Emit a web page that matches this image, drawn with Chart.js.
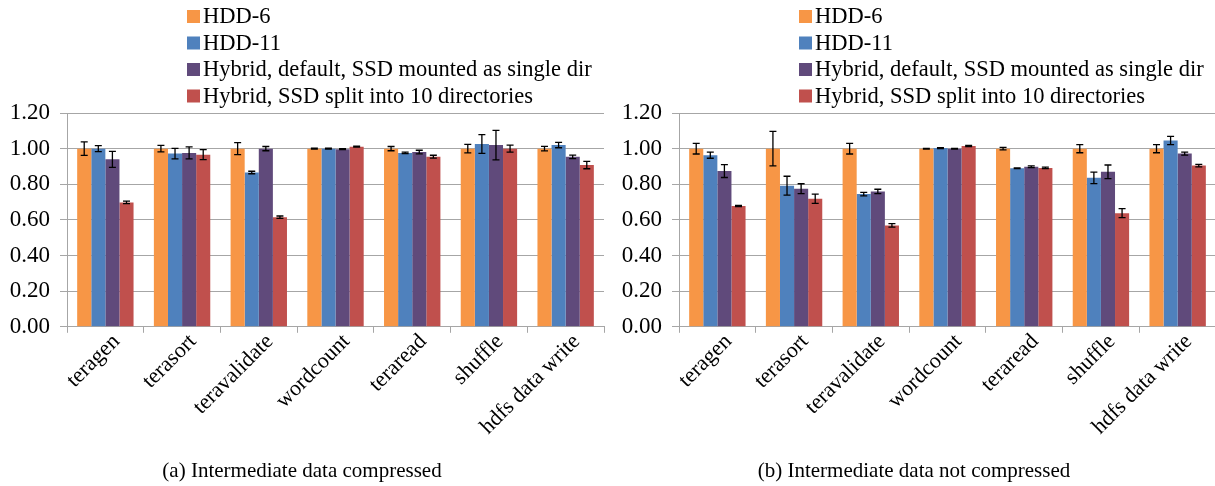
<!DOCTYPE html>
<html>
<head>
<meta charset="utf-8">
<script src="https://cdn.jsdelivr.net/npm/chart.js@4/dist/chart.umd.min.js"></script>
<style>
  html, body { margin: 0; padding: 0; background: #fff; overflow: hidden; }
  body { width: 1215px; height: 486px; position: relative; }
  .wrap { position: absolute; top: 0; width: 607px; height: 486px; }
  #wrapA { left: 0; }
  #wrapB { left: 612px; }
</style>
</head>
<body>
<div class="wrap" id="wrapA"><canvas id="chartA" width="607" height="486"></canvas></div>
<div class="wrap" id="wrapB"><canvas id="chartB" width="607" height="486"></canvas></div>
<script>
// categories and series names
const categories = ['teragen', 'terasort', 'teravalidate', 'wordcount', 'teraread', 'shuffle', 'hdfs data write'];
const seriesNames = ['HDD-6', 'HDD-11', 'Hybrid, default, SSD mounted as single dir', 'Hybrid, SSD split into 10 directories'];
const seriesColors = ['#F79646', '#4F81BD', '#604A7B', '#C0504D'];
const yTicks = [0, 0.2, 0.4, 0.6, 0.8, 1.0, 1.2];

// (a) intermediate data compressed
const compHdd6      = [1.00, 1.00, 1.00, 1.00, 1.00, 1.00, 1.00];
const compHdd6Err   = [0.038, 0.018, 0.034, 0.003, 0.012, 0.024, 0.013];
const compHdd11     = [1.00, 0.972, 0.866, 1.00, 0.976, 1.026, 1.020];
const compHdd11Err  = [0.017, 0.030, 0.007, 0.003, 0.004, 0.053, 0.015];
const compHyb       = [0.940, 0.976, 1.00, 0.997, 0.981, 1.020, 0.954];
const compHybErr    = [0.045, 0.034, 0.012, 0.003, 0.010, 0.083, 0.010];
const compSplit     = [0.698, 0.966, 0.615, 1.011, 0.955, 1.00, 0.908];
const compSplitErr  = [0.007, 0.028, 0.007, 0.003, 0.008, 0.020, 0.021];

// (b) intermediate data not compressed
const rawHdd6       = [1.00, 1.00, 1.00, 1.00, 1.00, 1.00, 1.00];
const rawHdd6Err    = [0.030, 0.097, 0.030, 0.002, 0.007, 0.023, 0.023];
const rawHdd11      = [0.963, 0.792, 0.745, 1.003, 0.890, 0.836, 1.046];
const rawHdd11Err   = [0.017, 0.053, 0.010, 0.003, 0.002, 0.032, 0.023];
const rawHyb        = [0.874, 0.775, 0.760, 1.00, 0.898, 0.870, 0.972];
const rawHybErr     = [0.036, 0.028, 0.012, 0.002, 0.005, 0.038, 0.008];
const rawSplit      = [0.678, 0.719, 0.569, 1.015, 0.892, 0.638, 0.905];
const rawSplitErr   = [0.004, 0.026, 0.010, 0.003, 0.004, 0.025, 0.007];

const fontFamily = '"Liberation Serif", "Times New Roman", serif';
const gridColor = '#A6A6A6';

// error bars drawn through the y scale of each chart
const errorBarPlugin = {
    id: 'errorBars',
    afterDatasetsDraw(chart) {
        const ctx = chart.ctx;
        const y = chart.scales.y;
        ctx.save();
        ctx.strokeStyle = '#000';
        ctx.lineWidth = 1.3;
        chart.data.datasets.forEach((ds, i) => {
            const meta = chart.getDatasetMeta(i);
            meta.data.forEach((bar, j) => {
                const v = ds.data[j];
                const e = ds.errors[j];
                const top = y.getPixelForValue(v + e);
                const bot = y.getPixelForValue(v - e);
                const cap = 3.5;
                ctx.beginPath();
                ctx.moveTo(bar.x, top);
                ctx.lineTo(bar.x, bot);
                ctx.moveTo(bar.x - cap, top);
                ctx.lineTo(bar.x + cap, top);
                ctx.moveTo(bar.x - cap, bot);
                ctx.lineTo(bar.x + cap, bot);
                ctx.stroke();
            });
        });
        ctx.restore();
    }
};

// legend stacked vertically in the top left, like the original
const stackedLegendPlugin = {
    id: 'stackedLegend',
    afterDraw(chart) {
        const ctx = chart.ctx;
        ctx.save();
        ctx.font = '22.5px ' + fontFamily;
        ctx.textBaseline = 'middle';
        ctx.textAlign = 'left';
        chart.data.datasets.forEach((ds, i) => {
            const cy = 16.5 + i * 26.5;
            ctx.fillStyle = ds.backgroundColor;
            ctx.fillRect(187, cy - 6.5, 13, 13);
            ctx.fillStyle = '#000';
            ctx.fillText(ds.label, 203, cy + 1);
        });
        ctx.restore();
    }
};

function makeChart(id, caption, values, errors) {
    const datasets = seriesNames.map((name, i) => ({
        label: name,
        data: values[i],
        errors: errors[i],
        backgroundColor: seriesColors[i],
        borderWidth: 0,
        barPercentage: 1.0,
        categoryPercentage: 0.735
    }));

    return new Chart(document.getElementById(id), {
        type: 'bar',
        data: { labels: categories, datasets: datasets },
        plugins: [errorBarPlugin, stackedLegendPlugin],
        options: {
            responsive: false,
            animation: false,
            layout: { padding: { top: 113, right: 3, left: 0, bottom: 0 } },
            plugins: {
                legend: { display: false },
                tooltip: { enabled: false },
                title: {
                    display: true,
                    position: 'bottom',
                    text: caption,
                    color: '#000',
                    font: { family: fontFamily, size: 21, weight: 'normal' },
                    padding: { top: 2, bottom: 2 }
                }
            },
            scales: {
                x: {
                    grid: {
                        offset: true,
                        drawOnChartArea: false,
                        drawTicks: true,
                        tickLength: 6,
                        color: gridColor
                    },
                    border: { color: gridColor, width: 1 },
                    ticks: {
                        minRotation: 45,
                        maxRotation: 45,
                        autoSkip: false,
                        padding: -4,
                        labelOffset: 11,
                        color: '#000',
                        font: { family: fontFamily, size: 22 }
                    },
                    afterFit(scale) { scale.height = 130; }
                },
                y: {
                    min: 0,
                    max: 1.2,
                    afterBuildTicks(scale) {
                        scale.ticks = yTicks.map(v => ({ value: v }));
                    },
                    grid: { color: gridColor, tickLength: 7, lineWidth: 1 },
                    border: { color: gridColor, width: 1 },
                    ticks: {
                        padding: 10,
                        color: '#000',
                        font: { family: fontFamily, size: 23 },
                        callback: v => Number(v).toFixed(2)
                    },
                    afterFit(scale) { scale.width = 67; }
                }
            }
        }
    });
}

makeChart('chartA', '(a) Intermediate data compressed',
    [compHdd6, compHdd11, compHyb, compSplit],
    [compHdd6Err, compHdd11Err, compHybErr, compSplitErr]);

makeChart('chartB', '(b) Intermediate data not compressed',
    [rawHdd6, rawHdd11, rawHyb, rawSplit],
    [rawHdd6Err, rawHdd11Err, rawHybErr, rawSplitErr]);
</script>
</body>
</html>
